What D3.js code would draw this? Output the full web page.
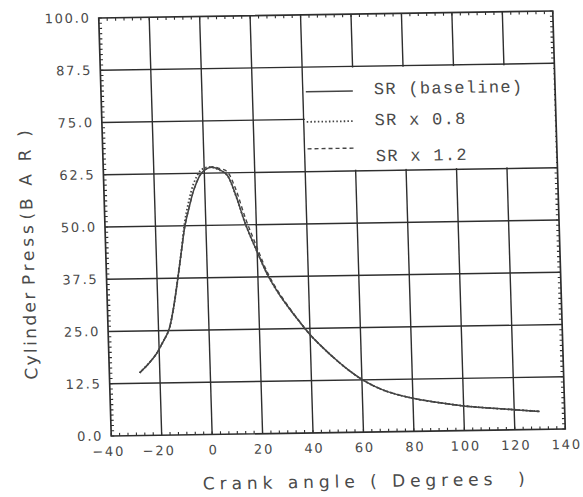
<!DOCTYPE html>
<html>
<head>
<meta charset="utf-8">
<script src="https://cdn.jsdelivr.net/npm/d3@7"></script>
<style>
  html, body { margin: 0; padding: 0; background: #fff; }
  svg { display: block; }
</style>
</head>
<body>
<svg id="chart" width="583" height="497"></svg>
<script>
// ---- data ----
const angles = [-28, -24, -21, -18.5, -16, -14, -12, -10, -8.3, -6.5, -4.2, -1.2, 1.5, 3.5, 6, 9, 12, 15.8, 20, 24, 28, 32, 36, 40, 45, 50, 55, 60, 65, 70, 80, 90, 100, 110, 120, 130];
const srBase = [15, 17.4, 19.6, 22.2, 25, 29.8, 36.5, 44, 50, 54.2, 58.8, 62.5, 63.7, 63.9, 63.3, 62.0, 57.5, 50, 43.5, 37.8, 33.5, 29.9, 26.6, 23.5, 20.3, 17.4, 14.8, 12.6, 10.9, 9.6, 7.9, 6.8, 5.9, 5.3, 4.8, 4.3];
const srLow  = [15, 17.4, 19.6, 22.2, 25, 29.8, 36.5, 44, 51, 55.8, 60.3, 63.3, 63.9, 63.8, 63.2, 61.9, 57.4, 50, 43.5, 37.8, 33.5, 29.9, 26.6, 23.5, 20.3, 17.4, 14.8, 12.6, 10.9, 9.6, 7.9, 6.8, 5.9, 5.3, 4.8, 4.3];
const srHigh = [15, 17.4, 19.6, 22.2, 25, 29.8, 36.5, 44, 50, 54.2, 58.8, 62.5, 63.7, 64.0, 63.6, 62.8, 59.0, 51.5, 44.5, 38.3, 33.8, 30.1, 26.7, 23.5, 20.3, 17.4, 14.8, 12.6, 10.9, 9.6, 7.9, 6.8, 5.9, 5.3, 4.8, 4.3];
const xTicks = [-40, -20, 0, 20, 40, 60, 80, 100, 120, 140];
const yTicks = [0, 12.5, 25, 37.5, 50, 62.5, 75, 87.5, 100];
const yTickLabels = ["0.0", "12.5", "25.0", "37.5", "50.0", "62.5", "75.0", "87.5", "100.0"];
const legendLabels = ["SR (baseline)", "SR x 0.8", "SR x 1.2"];
const xTitle = "Crank angle ( Degrees  )";
const yTitleParts = ["Cylinder", "Press", "(", "BAR)"];

// ---- layout ----
const W = 454, H = 418;
const svg = d3.select("#chart");
const g = svg.append("g")
  .attr("transform", `matrix(1, ${-7 / 454}, ${12.5 / 418}, 1, 98.75, 18)`);

const x = d3.scaleLinear().domain([-40, 140]).range([0, W]);
const y = d3.scaleLinear().domain([0, 100]).range([H, 0]);

const lineCol = "#2e2e2e";
const textCol = "#4a4a4a";

// gridlines
g.append("g").selectAll("line")
  .data(yTicks.filter(v => v > 0 && v < 100))
  .join("line")
  .attr("x1", 0).attr("x2", W)
  .attr("y1", d => y(d)).attr("y2", d => y(d))
  .attr("stroke", lineCol).attr("stroke-width", 1.4);
g.append("g").selectAll("line")
  .data(xTicks.filter(v => v > -40 && v < 140))
  .join("line")
  .attr("y1", 0).attr("y2", H)
  .attr("x1", d => x(d)).attr("x2", d => x(d))
  .attr("stroke", lineCol).attr("stroke-width", 1.4);

// minor ticks
const yMinor = d3.range(0, 100.01, 1.25);
const xMinor = d3.range(-40, 140.01, 20 / 6);
const mt = g.append("g").attr("stroke", lineCol).attr("stroke-width", 1.1);
mt.append("g").selectAll("line").data(yMinor).join("line")
  .attr("x1", 0).attr("x2", 3).attr("y1", d => y(d)).attr("y2", d => y(d));
mt.append("g").selectAll("line").data(yMinor).join("line")
  .attr("x1", W).attr("x2", W - 3).attr("y1", d => y(d)).attr("y2", d => y(d));
mt.append("g").selectAll("line").data(xMinor).join("line")
  .attr("y1", H).attr("y2", H - 3).attr("x1", d => x(d)).attr("x2", d => x(d));
mt.append("g").selectAll("line").data(xMinor).join("line")
  .attr("y1", 0).attr("y2", 3).attr("x1", d => x(d)).attr("x2", d => x(d));

// legend background (hides grid)
g.append("rect")
  .attr("x", x(40) + 1.2).attr("y", y(87.5) + 1.2)
  .attr("width", x(140) - x(40) - 2.4).attr("height", y(62.5) - y(87.5) - 2.4)
  .attr("fill", "#fff");

// frame
g.append("rect").attr("x", 0).attr("y", 0).attr("width", W).attr("height", H)
  .attr("fill", "none").attr("stroke", lineCol).attr("stroke-width", 1.7);

// curves
const line = d3.line().curve(d3.curveCatmullRom.alpha(0.5));
const series = [
  { vals: srBase, dash: null, w: 1.5 },
  { vals: srLow, dash: "1.5,2.2", w: 1.8 },
  { vals: srHigh, dash: "4,3", w: 1.4 }
];
series.forEach(s => {
  g.append("path")
    .attr("d", line(angles.map((a, i) => [x(a), y(s.vals[i])])))
    .attr("fill", "none").attr("stroke", "#444").attr("stroke-width", s.w)
    .attr("stroke-dasharray", s.dash);
});

// legend
const lx0 = x(40) + 3, lx1 = x(40) + 50;
const lineYs = [77, 107, 134];
const textYs = [76, 107, 143];
const legend = g.append("g");
series.forEach((s, i) => {
  legend.append("line")
    .attr("x1", lx0).attr("x2", lx1).attr("y1", lineYs[i]).attr("y2", lineYs[i])
    .attr("stroke", "#444").attr("stroke-width", s.w).attr("stroke-dasharray", s.dash);
  legend.append("text")
    .attr("x", x(40) + 71).attr("y", textYs[i])
    .attr("dominant-baseline", "central")
    .attr("font-family", "'Liberation Mono', 'DejaVu Sans Mono', monospace")
    .attr("font-size", 17).attr("letter-spacing", 1.3)
    .attr("fill", textCol)
    .text(legendLabels[i]);
});

// y tick labels
g.append("g").selectAll("text").data(yTicks).join("text")
  .attr("x", -8).attr("y", d => y(d))
  .attr("text-anchor", "end").attr("dominant-baseline", "central")
  .attr("font-family", "'DejaVu Sans', sans-serif").attr("font-size", 13)
  .attr("letter-spacing", 1.8).attr("fill", textCol)
  .text((d, i) => yTickLabels[i]);

// x tick labels
g.append("g").selectAll("text").data(xTicks).join("text")
  .attr("x", d => x(d) + (d < 0 ? -4 : 0) + 1)
  .attr("y", H + 20)
  .attr("text-anchor", "middle")
  .attr("font-family", "'DejaVu Sans', sans-serif").attr("font-size", 13)
  .attr("letter-spacing", 1.8).attr("fill", textCol)
  .text(d => String(d).replace("-", "\u2212"));

// axis titles
g.append("text")
  .attr("x", W / 2 + 24).attr("y", H + 55)
  .attr("text-anchor", "middle")
  .attr("font-family", "'DejaVu Sans', sans-serif").attr("font-size", 17)
  .attr("textLength", 322).attr("lengthAdjust", "spacing")
  .attr("fill", textCol)
  .style("white-space", "pre")
  .text(xTitle);

// y title: word pieces (centre along axis, length)
const yTitleCentres = [317, 236, 197, 151];
const yTitleLengths = [87, 60, 7, 80];
const yt = g.append("g");
yTitleParts.forEach((t, i) => {
  const tx = yt.append("text")
    .attr("transform", `translate(-78, ${yTitleCentres[i]}) rotate(-90)`)
    .attr("text-anchor", "middle").attr("dominant-baseline", "central")
    .attr("font-family", "'DejaVu Sans', sans-serif").attr("font-size", 17)
    .attr("fill", textCol)
    .text(t);
  if (t.length > 1) tx.attr("textLength", yTitleLengths[i]).attr("lengthAdjust", "spacing");
});
</script>
</body>
</html>
